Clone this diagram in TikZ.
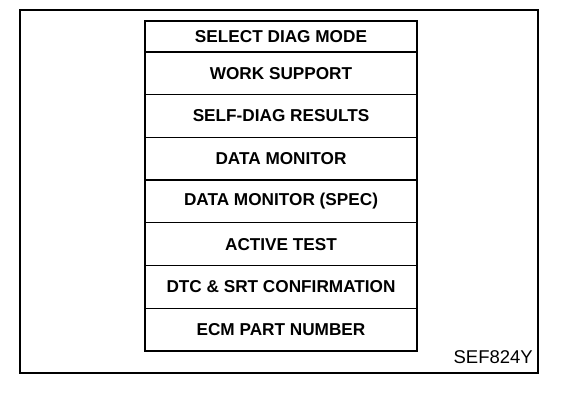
\documentclass[tikz,border=0pt]{standalone}
\usepackage{fontspec}
\setmainfont{Liberation Sans}
\usetikzlibrary{positioning}

\begin{document}
\begin{tikzpicture}[
  x=1pt,y=-1pt,
  menurow/.style={rectangle,draw,line width=1.2pt,minimum width=272pt,minimum height=42.7pt,inner sep=0pt,outer sep=0pt,font=\fontsize{17.2}{20}\selectfont\bfseries},
  frame/.style={line width=2pt},
  boxframe/.style={line width=2.6pt},
  figcode/.style={font=\fontsize{18.5}{21}\selectfont,inner sep=0pt,anchor=base east},
]
\useasboundingbox (0,0) rectangle (576,406);

% Outer frame
\draw[frame] (20,10) rectangle (538,373);

% Menu rows
\node[menurow,minimum height=31pt] (r1) at (281,36.5) {SELECT DIAG MODE};
\node[menurow,below=0pt of r1] (r2) {WORK SUPPORT};
\node[menurow,below=0pt of r2] (r3) {SELF-DIAG RESULTS};
\node[menurow,below=0pt of r3] (r4) {DATA MONITOR};
\node[menurow,below=0pt of r4] (r5) {DATA MONITOR (SPEC)};
\node[menurow,below=0pt of r5] (r6) {ACTIVE TEST};
\node[menurow,below=0pt of r6] (r7) {DTC \& SRT CONFIRMATION};
\node[menurow,below=0pt of r7] (r8) {ECM PART NUMBER};

% Heavy border round the menu
\draw[boxframe] (r1.north west) rectangle (r8.south east);

% Figure code
\node[figcode] (code) at (533,363) {SEF824Y};

\end{tikzpicture}
\end{document}
